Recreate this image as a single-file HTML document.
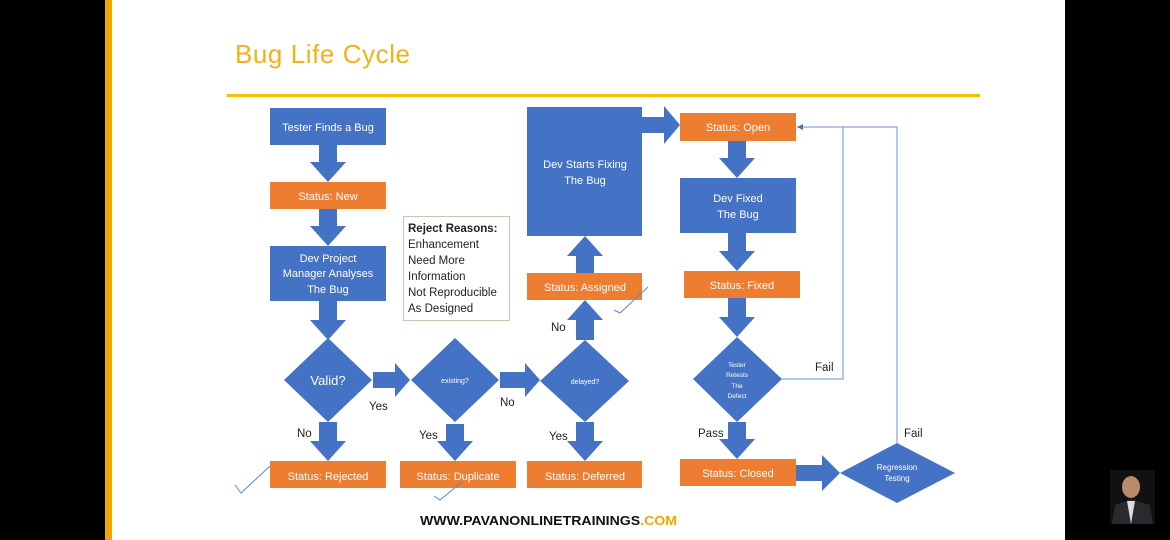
<!DOCTYPE html>
<html><head><meta charset="utf-8"><style>
html,body{margin:0;padding:0;background:#000;}
svg{display:block;}
text{font-family:"Liberation Sans",sans-serif;}
</style></head><body>
<svg width="1170" height="540" viewBox="0 0 1170 540" xmlns="http://www.w3.org/2000/svg">
<defs>
<marker id="ah" markerWidth="8" markerHeight="8" refX="6" refY="3" orient="auto"><path d="M0,0 L6,3 L0,6 z" fill="#4a6fb5"/></marker>
</defs>
<rect x="0" y="0" width="1170" height="540" fill="#000"/>
<rect x="105" y="0" width="7" height="540" fill="#f0a500"/>
<rect x="112" y="0" width="953" height="540" fill="#fff"/>
<text x="235" y="63" font-size="26" fill="#f2b21b" textLength="175">Bug Life Cycle</text>
<rect x="227" y="94" width="753" height="3" fill="#f5c000"/>

<g fill="#4472c4">
<path d="M319,145 h18 v17 h9 l-18,20 l-18,-20 h9 z"/>
<path d="M319,209 h18 v17 h9 l-18,20 l-18,-20 h9 z"/>
<path d="M319,301 h18 v19 h9 l-18,20 l-18,-20 h9 z"/>
<path d="M319,422 h18 v19 h9 l-18,20 l-18,-20 h9 z"/>
<path d="M446,424 h18 v17 h9 l-18,20 l-18,-20 h9 z"/>
<path d="M576,422 h18 v19 h9 l-18,20 l-18,-20 h9 z"/>
<path d="M728,141 h18 v17 h9 l-18,20 l-18,-20 h9 z"/>
<path d="M728,233 h18 v18 h9 l-18,20 l-18,-20 h9 z"/>
<path d="M728,298 h18 v19 h9 l-18,20 l-18,-20 h9 z"/>
<path d="M728,422 h18 v17 h9 l-18,20 l-18,-20 h9 z"/>
<path d="M576,340 h18 v-20 h9 l-18,-20 l-18,20 h9 z"/>
<path d="M576,273 h18 v-17 h9 l-18,-20 l-18,20 h9 z"/>
<path d="M373,372 v16 h22 v9 l15,-17 l-15,-17 v9 z"/>
<path d="M500,372 v16 h25 v9 l15,-17 l-15,-17 v9 z"/>
<path d="M642,117 v16 h22 v11 l16,-19 l-16,-19 v11 z"/>
<path d="M796,465 v16 h26 v10 l18,-18 l-18,-18 v10 z"/>
<rect x="270" y="108" width="116" height="37"/>
<rect x="270" y="246" width="116" height="55"/>
<rect x="527" y="107" width="115" height="129"/>
<rect x="680" y="178" width="116" height="55"/>
<path d="M328,338 L372,380 L328,422 L284,380 z"/>
<path d="M455,338 L499,380 L455,422 L411,380 z"/>
<path d="M585,340 L629,381 L585,422 L540,381 z"/>
<path d="M737,337 L782,379 L737,422 L693,379 z"/>
<path d="M897,443 L955,473 L897,503 L840,473 z"/>
</g>
<g fill="#ed7d31">
<rect x="270" y="182" width="116" height="27"/>
<rect x="527" y="273" width="115" height="27"/>
<rect x="680" y="113" width="116" height="28"/>
<rect x="684" y="271" width="116" height="27"/>
<rect x="680" y="459" width="116" height="27"/>
<rect x="270" y="461" width="116" height="27"/>
<rect x="400" y="461" width="116" height="27"/>
<rect x="527" y="461" width="115" height="27"/>
</g>

<g stroke="#6f8fcf" stroke-width="1" fill="none">
<polyline points="782,379 843,379 843,127"/>
<polyline points="897,443 897,127 797,127" marker-end="url(#ah)"/>
</g>

<rect x="403.5" y="216.5" width="106" height="104" fill="#fff" stroke="#b9cfae"/>
<g font-size="11.5" fill="#222">
<text x="408" y="232" font-weight="bold">Reject Reasons:</text>
<text x="408" y="248">Enhancement</text>
<text x="408" y="264">Need More</text>
<text x="408" y="280">Information</text>
<text x="408" y="296">Not Reproducible</text>
<text x="408" y="312">As Designed</text>
</g>

<g font-size="11" fill="#fff" text-anchor="middle">
<text x="328" y="131">Tester Finds a Bug</text>
<text x="328" y="200">Status: New</text>
<text x="328" y="262">Dev Project</text>
<text x="328" y="277">Manager Analyses</text>
<text x="328" y="293">The Bug</text>
<text x="328" y="385" font-size="13">Valid?</text>
<text x="455" y="383" font-size="7">existing?</text>
<text x="585" y="384" font-size="7">delayed?</text>
<text x="585" y="168">Dev Starts Fixing</text>
<text x="585" y="184">The Bug</text>
<text x="585" y="291">Status: Assigned</text>
<text x="738" y="131">Status: Open</text>
<text x="738" y="202">Dev Fixed</text>
<text x="738" y="218">The Bug</text>
<text x="742" y="289">Status: Fixed</text>
<g font-size="6.5"><text x="737" y="367">Tester</text><text x="737" y="377">Retests</text><text x="737" y="388">The</text><text x="737" y="398">Defect</text></g>
<text x="738" y="477">Status: Closed</text>
<g font-size="8"><text x="897" y="470">Regression</text><text x="897" y="481">Testing</text></g>
<text x="328" y="480">Status: Rejected</text>
<text x="458" y="480">Status: Duplicate</text>
<text x="585" y="480">Status: Deferred</text>
</g>

<g font-size="11.5" fill="#222">
<text x="369" y="410">Yes</text>
<text x="297" y="437">No</text>
<text x="419" y="439">Yes</text>
<text x="500" y="406">No</text>
<text x="549" y="440">Yes</text>
<text x="551" y="331">No</text>
<text x="815" y="371">Fail</text>
<text x="698" y="437">Pass</text>
<text x="904" y="437">Fail</text>
</g>

<g stroke="#5b86d6" stroke-width="1" fill="none">
<path d="M235,485 L241,493 L270,466"/>
<path d="M434,496 L440,500 L462,482"/>
<path d="M614,310 L620,313 L648,287"/>
</g>

<text x="420" y="525" font-size="13" font-weight="bold" fill="#111" textLength="257" lengthAdjust="spacingAndGlyphs">WWW.PAVANONLINETRAININGS<tspan fill="#f0a500">.COM</tspan></text>

<rect x="1110" y="470" width="45" height="54" fill="#111"/>
<ellipse cx="1131" cy="487" rx="9" ry="11" fill="#b98a6e"/>
<path d="M1112,524 L1115,505 L1131,499 L1150,505 L1153,524 z" fill="#2a2a2e"/>
<path d="M1127,501 L1131,524 L1135,501 z" fill="#ddd"/>
</svg>
</body></html>
